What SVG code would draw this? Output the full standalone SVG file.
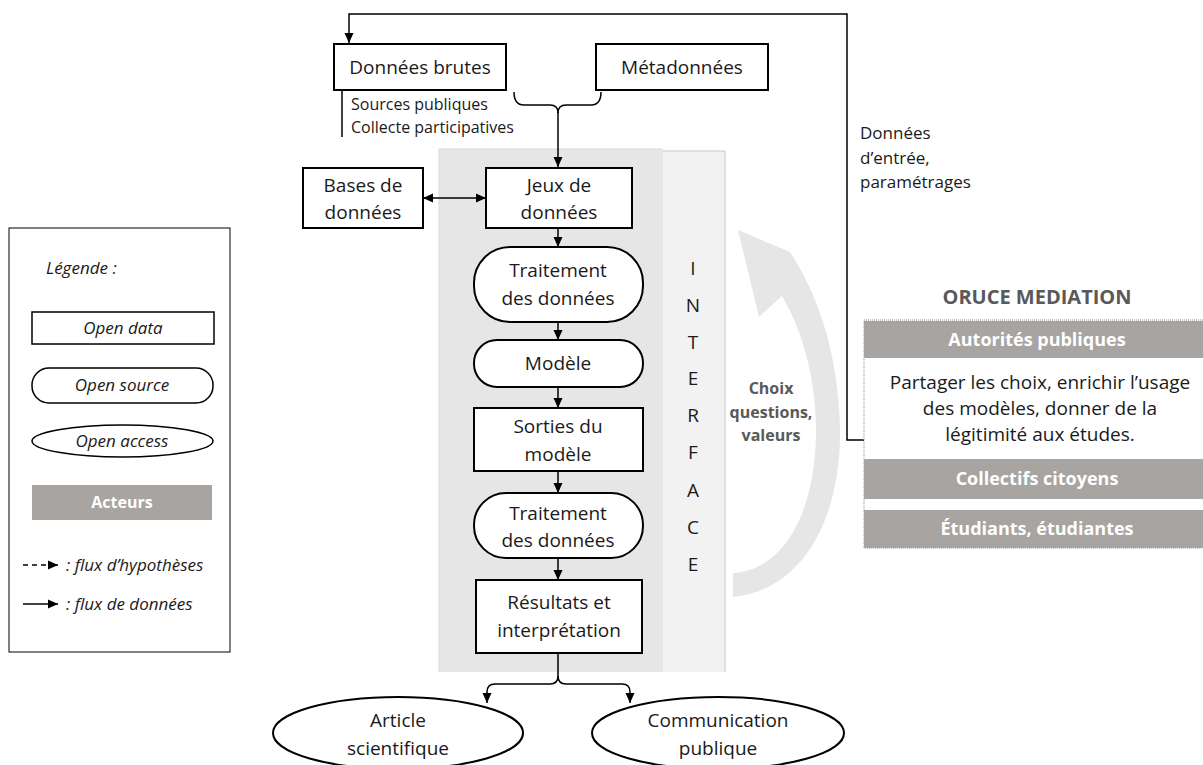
<svg xmlns="http://www.w3.org/2000/svg" width="1203" height="765" viewBox="0 0 1203 765">
<defs>
<marker id="ah" markerUnits="userSpaceOnUse" markerWidth="10" markerHeight="10" viewBox="0 0 10 10" refX="10" refY="5" orient="auto-start-reverse"><path d="M0,0.5 L10,5 L0,9.5 Z" fill="#000"/></marker>
<style>
text{font-family:"Open Sans","Liberation Sans",sans-serif;fill:#1a1a1a}
.n{font-size:19px;text-anchor:middle}
.box{fill:#fff;stroke:#000;stroke-width:2}
.c{fill:none;stroke:#000;stroke-width:1.5}
.lg{font-style:italic;font-size:17px}
.band{fill:#a7a4a2}
.bt{font-weight:bold;fill:#fff;text-anchor:middle}
.g{fill:#595959}
.il{font-size:19px;text-anchor:middle}
</style>
</defs>
<rect width="1203" height="765" fill="#fff"/>

<g id="panel">
<rect x="439" y="149" width="224" height="523" fill="#e6e6e6"/>
<rect x="663" y="151" width="62" height="521" fill="#f2f2f2"/>
<path d="M663 151 L725 151 L725 672" fill="none" stroke="#c8c8c8" stroke-width="1"/>
<path d="M439 672 L439 149 L663 149" fill="none" stroke="#d9d9d9" stroke-width="1"/>
</g>

<g id="interface">
<text class="il" x="693" y="275">I</text>
<text class="il" x="693" y="312">N</text>
<text class="il" x="693" y="349">T</text>
<text class="il" x="693" y="385">E</text>
<text class="il" x="693" y="422">R</text>
<text class="il" x="693" y="459">F</text>
<text class="il" x="693" y="497">A</text>
<text class="il" x="693" y="534">C</text>
<text class="il" x="693" y="571">E</text>
</g>

<g id="cycle-arrow">
<path d="M733 597 C805 590 841 515 840 430 C839 350 815 290 790 252 L738 230 L759 317 L782 296 C805 335 816 385 816 430 C816 510 785 570 733 573 Z" fill="#e6e6e6"/>
<text font-weight="bold" font-size="16" class="g" text-anchor="middle"><tspan x="771" y="394">Choix</tspan><tspan x="771" y="418">questions,</tspan><tspan x="771" y="441">valeurs</tspan></text>
</g>

<g id="connectors">
<path class="c" d="M864 440 L847 440 L847 14 L349 14 L349 43" marker-end="url(#ah)"/>
<path class="c" d="M514 92 Q514 105 524 105 L550 105 Q558 105 558 113 M601 92 Q601 105 591 105 L566 105 Q558 105 558 113"/>
<path class="c" d="M558 112 L558 167" marker-end="url(#ah)"/>
<path class="c" d="M342 90 L342 137"/>
<path class="c" d="M423 198 L486 198" marker-start="url(#ah)" marker-end="url(#ah)"/>
<path class="c" d="M558 228 L558 247" marker-end="url(#ah)"/>
<path class="c" d="M558 322 L558 340" marker-end="url(#ah)"/>
<path class="c" d="M558 387 L558 408" marker-end="url(#ah)"/>
<path class="c" d="M558 471 L558 493" marker-end="url(#ah)"/>
<path class="c" d="M558 558 L558 580" marker-end="url(#ah)"/>
<path class="c" d="M558 653 L558 676 Q558 684 550 684 L495 684 Q487 684 487 692 L487 703" marker-end="url(#ah)"/>
<path class="c" d="M558 676 Q558 684 566 684 L622 684 Q630 684 630 692 L630 703" marker-end="url(#ah)"/>
</g>

<g id="donnees-brutes">
<rect class="box" x="334" y="44" width="172" height="46"/>
<text class="n" x="420" y="74">Données brutes</text>
<text font-size="16" fill="#333"><tspan x="351" y="110">Sources publiques</tspan><tspan x="351" y="133">Collecte participatives</tspan></text>
</g>
<g id="metadonnees">
<rect class="box" x="596" y="44" width="172" height="46"/>
<text class="n" x="682" y="74">Métadonnées</text>
</g>
<g id="bases">
<rect class="box" x="303" y="168" width="120" height="60"/>
<text class="n" x="363" y="192">Bases de</text>
<text class="n" x="363" y="219">données</text>
</g>
<g id="jeux">
<rect class="box" x="486" y="168" width="146" height="60"/>
<text class="n" x="559" y="192">Jeux de</text>
<text class="n" x="559" y="219">données</text>
</g>
<g id="traitement1">
<rect class="box" x="474" y="247" width="169" height="75" rx="36"/>
<text class="n" x="558" y="277">Traitement</text>
<text class="n" x="558" y="305">des données</text>
</g>
<g id="modele">
<rect class="box" x="474" y="340" width="169" height="47" rx="23"/>
<text class="n" x="558" y="370">Modèle</text>
</g>
<g id="sorties">
<rect class="box" x="474" y="408" width="169" height="63"/>
<text class="n" x="558" y="433">Sorties du</text>
<text class="n" x="558" y="461">modèle</text>
</g>
<g id="traitement2">
<rect class="box" x="474" y="493" width="169" height="65" rx="32"/>
<text class="n" x="558" y="520">Traitement</text>
<text class="n" x="558" y="547">des données</text>
</g>
<g id="resultats">
<rect class="box" x="476" y="580" width="166" height="73"/>
<text class="n" x="559" y="609">Résultats et</text>
<text class="n" x="559" y="637">interprétation</text>
</g>
<g id="article">
<ellipse class="box" cx="398" cy="733" rx="125" ry="36"/>
<text class="n" x="398" y="727">Article</text>
<text class="n" x="398" y="755">scientifique</text>
</g>
<g id="communication">
<ellipse class="box" cx="718" cy="733" rx="126" ry="36"/>
<text class="n" x="718" y="727">Communication</text>
<text class="n" x="718" y="755">publique</text>
</g>

<g id="legend">
<rect x="9" y="228" width="221" height="424" fill="#fff" stroke="#000" stroke-width="1"/>
<text class="lg" x="46" y="274" font-size="18">Légende :</text>
<rect x="32" y="312" width="182" height="32" fill="#fff" stroke="#000" stroke-width="1.5"/>
<text class="lg" x="123" y="334" text-anchor="middle">Open data</text>
<rect x="32" y="368" width="181" height="35" rx="17" fill="#fff" stroke="#000" stroke-width="1.5"/>
<text class="lg" x="122" y="391" text-anchor="middle">Open source</text>
<ellipse cx="122.5" cy="441" rx="90.5" ry="16" fill="#fff" stroke="#000" stroke-width="1.5"/>
<text class="lg" x="122" y="447" text-anchor="middle">Open access</text>
<rect class="band" x="32" y="485" width="180" height="35"/>
<text class="bt" x="122" y="508" font-size="16">Acteurs</text>
<path d="M23 565 L52 565" fill="none" stroke="#000" stroke-width="1.5" stroke-dasharray="5,4"/>
<path d="M50 565 L58 565" fill="none" stroke="#000" stroke-width="1.5" marker-end="url(#ah)"/>
<text class="lg" x="66" y="571">: flux d’hypothèses</text>
<path d="M23 604 L58 604" fill="none" stroke="#000" stroke-width="1.5" marker-end="url(#ah)"/>
<text class="lg" x="66" y="610">: flux de données</text>
</g>

<g id="entree-label">
<text font-size="17" fill="#666"><tspan x="860" y="139">Données</tspan><tspan x="860" y="164">d’entrée,</tspan><tspan x="860" y="188">paramétrages</tspan></text>
</g>

<g id="oruce">
<text class="g" x="1037" y="304" font-size="20" font-weight="bold" text-anchor="middle">ORUCE MEDIATION</text>
<rect x="864" y="320" width="345" height="228" fill="#fff" stroke="#8c8c8c" stroke-width="1" stroke-dasharray="1,1"/>
<rect class="band" x="864" y="321" width="339" height="37"/>
<text class="bt" x="1037" y="346" font-size="18">Autorités publiques</text>
<text font-size="19" text-anchor="middle" fill="#262626"><tspan x="1040" y="389">Partager les choix, enrichir l’usage</tspan><tspan x="1040" y="415">des modèles, donner de la</tspan><tspan x="1040" y="441">légitimité aux études.</tspan></text>
<rect class="band" x="864" y="459" width="339" height="40"/>
<text class="bt" x="1037" y="485" font-size="18">Collectifs citoyens</text>
<rect class="band" x="864" y="510" width="339" height="38"/>
<text class="bt" x="1037" y="535" font-size="18">Étudiants, étudiantes</text>
</g>
</svg>
